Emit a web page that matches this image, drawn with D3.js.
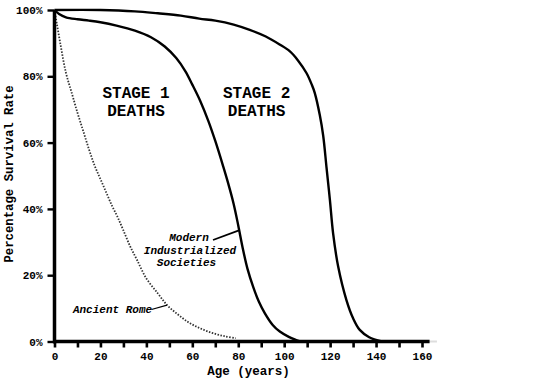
<!DOCTYPE html>
<html>
<head>
<meta charset="utf-8">
<script src="https://cdn.jsdelivr.net/npm/d3@7"></script>
<style>
  html, body { margin: 0; padding: 0; background: #fff; }
  svg { display: block; }
  text { font-family: "Courier New", Courier, "Nimbus Mono PS", "Liberation Mono", monospace; font-weight: bold; fill: #000; }
</style>
</head>
<body>
<svg id="chart" width="541" height="387"></svg>
<script>
// ---- Data (age in years, percent surviving) ----
const xTicks = [0, 10, 20, 30, 40, 50, 60, 70, 80, 90, 100, 110, 120, 130, 140, 150, 160];
const xTickLabels = ["0", "", "20", "", "40", "", "60", "", "80", "", "100", "", "120", "", "140", "", "160"];
const yTicks = [0, 20, 40, 60, 80, 100];
const yTickLabels = ["0%", "20%", "40%", "60%", "80%", "100%"];

const ancientRome = [
  [0, 100], [2.5, 90], [5, 81], [7.5, 75], [10, 69], [12.5, 63.5], [15, 58], [17.5, 53],
  [20, 49], [22.5, 45], [25, 41], [27.5, 37.5], [30, 33.5], [33, 28.6], [36, 24.5],
  [40, 19], [45, 14.5], [49, 11], [54, 8], [59, 5.5], [64, 3.8], [69, 2.5], [74, 1.6], [79, 1]
];
const modernSocieties = [
  [0, 100], [2, 98.8], [5, 97.8], [10, 97.2], [15, 96.8], [20, 96.3], [27, 95.3], [35, 93.8],
  [42, 91.8], [48, 89], [53, 85.5], [57, 81.5], [60, 77.5], [63.5, 72.5], [67, 66.5], [70, 60.5],
  [73.5, 52.7], [75.5, 48], [78, 41.5], [80, 35], [82, 28], [84, 22], [86.5, 16.5], [89, 12],
  [91.6, 8.5], [95, 5], [98.1, 3], [102, 1.4], [105, 0.5], [107, 0]
];
const stage2Curve = [
  [0, 100], [20, 100], [35, 99.6], [45, 99], [55, 98.3], [63, 97.4], [70, 96.8], [78, 95.6],
  [85, 94], [92, 92], [98, 89.6], [102.5, 87.5], [106, 84.8], [109.7, 81], [112, 77.5],
  [113.3, 75], [115.5, 68.3], [117, 62], [118.4, 52.7], [119.9, 42.7], [121.3, 32.6],
  [123.5, 22.6], [127.1, 12.5], [130, 7], [132.9, 3.5], [137, 1.3], [142.5, 0]
];

const regionLabels = [
  { lines: ["STAGE 1", "DEATHS"], age: 35.5, pct: 73.5 },
  { lines: ["STAGE 2", "DEATHS"], age: 88, pct: 73.5 }
];

// ---- Layout ----
const svg = d3.select("#chart");
const x = d3.scaleLinear().domain([0, 160]).range([54.5, 422]);
const y = d3.scaleLinear().domain([0, 100]).range([341.5, 10]);

const line = d3.line()
  .x(d => x(d[0]))
  .y(d => y(d[1]))
  .curve(d3.curveCatmullRom.alpha(0.5));

// faint extension of x axis
svg.append("line")
  .attr("x1", x(0)).attr("x2", x(166.5))
  .attr("y1", y(0)).attr("y2", y(0))
  .attr("stroke", "#ddd").attr("stroke-width", 2);

// curves
svg.append("path").datum(ancientRome)
  .attr("d", line).attr("fill", "none")
  .attr("stroke", "#333").attr("stroke-width", 1.8)
  .attr("stroke-dasharray", "1.5 1.5");

svg.append("path").datum(modernSocieties)
  .attr("d", line).attr("fill", "none")
  .attr("stroke", "#000").attr("stroke-width", 2.4);

svg.append("path").datum(stage2Curve)
  .attr("d", line).attr("fill", "none")
  .attr("stroke", "#000").attr("stroke-width", 2.4);

// X axis
const xAxis = d3.axisBottom(x)
  .tickValues(xTicks)
  .tickFormat((d, i) => xTickLabels[i])
  .tickSize(6)
  .tickPadding(5);
const gx = svg.append("g").attr("transform", `translate(0,${y(0)})`).call(xAxis);
gx.select(".domain").remove();
gx.append("line").attr("x1", x(0) - 1.5).attr("x2", x(163.3))
  .attr("stroke", "#000").attr("stroke-width", 3.5);
gx.selectAll(".tick line").attr("stroke", "#000").attr("stroke-width", 2.6);
gx.selectAll(".tick text").style("font-size", "11px").attr("fill", "#000");

// Y axis
const yAxis = d3.axisLeft(y)
  .tickValues(yTicks)
  .tickFormat((d, i) => yTickLabels[i])
  .tickSize(7)
  .tickPadding(5);
const gy = svg.append("g").attr("transform", `translate(${x(0)},0)`).call(yAxis);
gy.select(".domain").remove();
gy.append("line").attr("y1", y(100)).attr("y2", y(0) + 1.75)
  .attr("stroke", "#000").attr("stroke-width", 3.5);
gy.selectAll(".tick line").attr("stroke", "#000").attr("stroke-width", 2.4);
gy.selectAll(".tick text").style("font-size", "11px").attr("fill", "#000");

// Axis titles
svg.append("text")
  .attr("x", 248.5).attr("y", 375)
  .attr("text-anchor", "middle")
  .style("font-size", "12.5px")
  .text("Age (years)");

svg.append("text")
  .attr("transform", "translate(13,174) rotate(-90)")
  .attr("text-anchor", "middle")
  .style("font-size", "12.3px")
  .text("Percentage Survival Rate");

// Region labels
regionLabels.forEach(r => {
  const t = svg.append("text")
    .attr("text-anchor", "middle")
    .style("font-size", "16px");
  r.lines.forEach((s, i) => {
    t.append("tspan")
      .attr("x", x(r.age))
      .attr("y", y(r.pct) + i * 18.3)
      .text(s);
  });
});

// Annotations
const annot = svg.append("g").style("font-style", "italic").style("font-size", "11px");
annot.append("text").attr("x", 189).attr("y", 240.5).attr("text-anchor", "middle").text("Modern");
annot.append("text").attr("x", 190).attr("y", 253.5).attr("text-anchor", "middle").text("Industrialized");
annot.append("text").attr("x", 186.5).attr("y", 266).attr("text-anchor", "middle").text("Societies");
annot.append("text").attr("x", 112.5).attr("y", 312.5).attr("text-anchor", "middle").text("Ancient Rome");

// Leader lines (anchored on curve points)
svg.append("line")
  .attr("x1", 213).attr("y1", 240)
  .attr("x2", x(80.3)).attr("y2", y(33.5))
  .attr("stroke", "#000").attr("stroke-width", 1.8);
svg.append("line")
  .attr("x1", 151.5).attr("y1", 309.5)
  .attr("x2", x(49)).attr("y2", y(11))
  .attr("stroke", "#000").attr("stroke-width", 1.3);
</script>
</body>
</html>
